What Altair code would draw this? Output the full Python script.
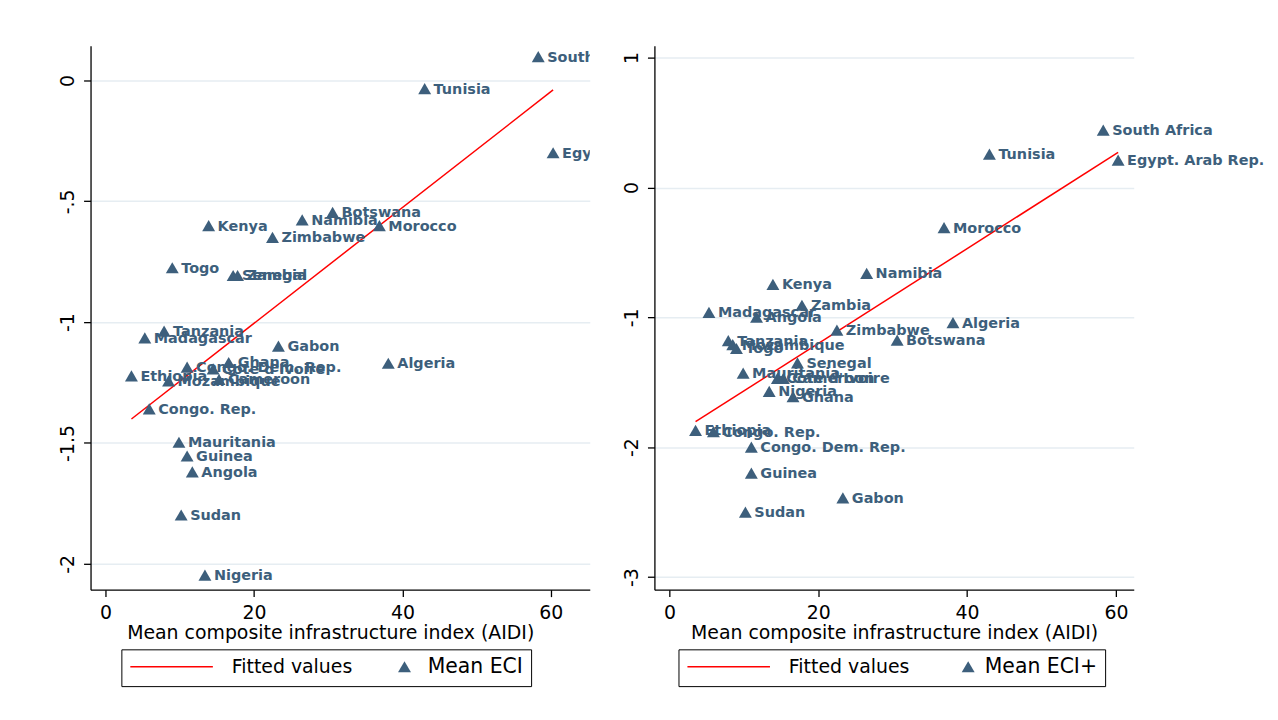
import altair as alt
import pandas as pd

countries = ["South Africa", "Tunisia", "Egypt. Arab Rep.", "Botswana", "Namibia", "Morocco",
             "Kenya", "Zimbabwe", "Togo", "Zambia", "Senegal", "Tanzania", "Madagascar", "Gabon",
             "Algeria", "Ghana", "Congo. Dem. Rep.", "Cote d'Ivoire", "Ethiopia", "Mozambique",
             "Cameroon", "Congo. Rep.", "Mauritania", "Guinea", "Angola", "Sudan", "Nigeria"]
aidi = [58.3, 43.0, 60.3, 30.6, 26.5, 36.9, 13.9, 22.5, 9.0, 17.8, 17.2, 7.9, 5.3, 23.3,
        38.1, 16.6, 11.0, 14.5, 3.5, 8.5, 15.3, 5.9, 9.9, 11.0, 11.7, 10.2, 13.4]
eci = [0.099, -0.034, -0.299, -0.546, -0.577, -0.601, -0.601, -0.649, -0.775, -0.807, -0.807,
       -1.037, -1.065, -1.099, -1.170, -1.167, -1.186, -1.193, -1.222, -1.243, -1.237, -1.359,
       -1.497, -1.554, -1.620, -1.798, -2.047]
eci_plus = [0.441, 0.257, 0.211, -1.175, -0.662, -0.309, -0.746, -1.098, -1.24, -0.907, -1.35,
            -1.18, -0.961, -2.39, -1.04, -1.61, -2.00, -1.47, -1.87, -1.21, -1.47, -1.88,
            -1.43, -2.20, -0.999, -2.50, -1.57]

left_yticks = [0, -0.5, -1, -1.5, -2]
right_yticks = [1, 0, -1, -2, -3]
x_ticks = [0, 20, 40, 60]
fit_label = "Fitted values"

NAVY = "#3d5f7c"
RED = "#ff0000"
FONT = "DejaVu Sans"


def panel(yvals, label, xdom, ydom, yticks, width, clip_text, frame_x, tri_x):
    df = pd.DataFrame({"country": countries, "aidi": aidi, "score": yvals, "series": label})
    x = alt.X("aidi:Q", scale=alt.Scale(domain=xdom, nice=False, zero=False),
              axis=alt.Axis(values=x_ticks, title="Mean composite infrastructure index (AIDI)",
                            grid=False, titleX=241, format="d", labelFlush=False))
    y = alt.Y("score:Q", scale=alt.Scale(domain=ydom, nice=False, zero=False),
              axis=alt.Axis(values=yticks, title=None, grid=True, labelAngle=270,
                            labelAlign="center", labelBaseline="bottom", labelFlush=False,
                            labelExpr="replace(toString(datum.value), '0.', '.')"))
    # framed legend: red line + "Fitted values", series name as right-hand title
    leg_line = alt.Legend(title=label, titleOrient="right", titlePadding=76, titleFont=FONT,
                          titleFontSize=20.5, titleFontWeight="normal", titleColor="black",
                          orient="none", legendX=frame_x, legendY=607, symbolType="stroke",
                          symbolSize=6889, symbolStrokeWidth=1.5, clipHeight=19,
                          labelFont=FONT, labelFontSize=19, labelColor="black", labelOffset=18,
                          padding=8, strokeColor="black", labelLimit=400)
    # triangle symbol for the scatter series, placed inside the frame
    leg_tri = alt.Legend(title=None, orient="none", legendX=tri_x, legendY=618,
                         symbolType="triangle-up", symbolSize=169, symbolStrokeWidth=0,
                         symbolOpacity=1, labelExpr="''", labelFontSize=13, padding=0)
    base = alt.Chart(df)
    fit = base.transform_regression("aidi", "score").transform_calculate(
        fit_series=f"'{fit_label}'").mark_line(strokeWidth=1.5).encode(
        x=x, y=y,
        stroke=alt.Stroke("fit_series:N", scale=alt.Scale(domain=[fit_label], range=[RED]),
                          legend=leg_line))
    pts = base.mark_point(filled=True, opacity=1, size=169, shape="triangle-up").encode(
        x=x, y=y,
        fill=alt.Fill("series:N", scale=alt.Scale(domain=[label], range=[NAVY]), legend=leg_tri))
    txt = base.mark_text(align="left", baseline="middle", dx=9, dy=1, font=FONT,
                         fontWeight="bold", fontSize=14.5, color=NAVY, clip=clip_text).encode(
        x=x, y=y, text="country:N")
    return alt.layer(fit, pts, txt).properties(width=width, height=547)


left = panel(eci, "Mean ECI", [-2.01, 65.24], [-2.107, 0.144], left_yticks, 502, True, 31, 309.2)
right = panel(eci_plus, "Mean ECI+", [-2.03, 62.4], [-3.097, 1.092], right_yticks, 482, False,
              24.2, 309)

chart = alt.hconcat(left, right, spacing=31).resolve_scale(
    x="independent", y="independent", stroke="independent", fill="independent"
).resolve_legend(stroke="independent", fill="independent").properties(
    padding={"left": 50, "top": 35, "right": 5, "bottom": 0}, background="white"
).configure_axis(
    domainColor="black", domainWidth=1.3, tickColor="black", tickWidth=1.3, tickSize=7,
    labelFont=FONT, labelFontSize=19, labelColor="black", titleFont=FONT,
    titleFontSize=19, titleFontWeight="normal", titleColor="black", titlePadding=1,
    gridColor="#e6edf2", gridWidth=1.5
).configure_axisX(labelPadding=7).configure_axisY(labelPadding=6).configure_view(
    stroke="transparent")

chart.save("out.html", embed_options={"renderer": "svg", "actions": False})
